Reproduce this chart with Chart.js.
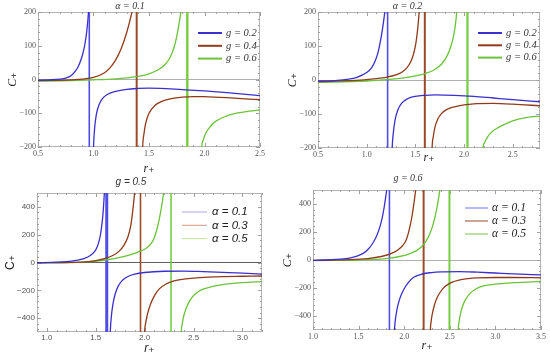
<!DOCTYPE html>
<html>
<head>
<meta charset="UTF-8">
<title>C+ vs r+</title>
<script src="https://cdn.jsdelivr.net/npm/chart.js@4.4.0/dist/chart.umd.min.js"></script>
<style>
  body { margin: 0; background: #fff; }
  #wrap { position: relative; width: 550px; height: 361px; overflow: hidden; }
  .panel { position: absolute; }
</style>
</head>
<body>
<div id="wrap">
  <div class="panel" style="left:0;top:0;"><canvas id="c1" width="275" height="180"></canvas></div>
  <div class="panel" style="left:275px;top:0;"><canvas id="c2" width="275" height="180"></canvas></div>
  <div class="panel" style="left:0;top:176px;"><canvas id="c3" width="275" height="185"></canvas></div>
  <div class="panel" style="left:275px;top:172px;"><canvas id="c4" width="275" height="189"></canvas></div>
</div>

<script>
// ---- data: [r+, C+] ----
// top left, alpha = 0.1
const a1_g02_left  = [[0.5,-2],[0.6,-1],[0.7,1],[0.75,4],[0.8,12],[0.84,26],[0.87,44],[0.9,72],[0.92,100],[0.94,145],[0.955,200],[0.965,260]];
const a1_g02_right = [[0.995,-260],[1.0,-200],[1.01,-145],[1.025,-105],[1.05,-75],[1.08,-57],[1.12,-45],[1.2,-35],[1.3,-29],[1.4,-26.5],[1.5,-25.5],[1.6,-26],[1.8,-30],[2.0,-34],[2.2,-39],[2.5,-48]];
const a1_g04_left  = [[0.5,-3],[0.8,-1],[0.9,1],[1.0,6],[1.1,20],[1.15,35],[1.2,58],[1.25,92],[1.3,140],[1.35,205],[1.37,240]];
const a1_g04_right = [[1.438,-260],[1.443,-200],[1.455,-160],[1.47,-130],[1.5,-100],[1.55,-78],[1.6,-67],[1.7,-57],[1.8,-52],[1.9,-50.5],[2.0,-51],[2.2,-54],[2.4,-58],[2.5,-60]];
const a1_g06_left  = [[0.5,-5],[0.8,-3],[1.0,-1],[1.2,2],[1.3,5],[1.4,9],[1.5,17],[1.58,28],[1.64,43],[1.69,65],[1.73,100],[1.76,145],[1.78,185],[1.79,210],[1.8,240]];
const a1_g06_right = [[1.97,-240],[1.975,-200],[1.99,-178],[2.01,-160],[2.05,-140],[2.1,-124],[2.2,-108],[2.3,-99],[2.4,-94],[2.5,-90]];
const a1_asym = [0.962, 1.389, 1.845];

// top right, alpha = 0.2
const a2_g02_left  = [[0.5,-3],[0.7,-1],[0.8,2],[0.9,8],[1.0,22],[1.05,36],[1.09,58],[1.12,85],[1.15,128],[1.17,165],[1.188,205],[1.2,240]];
const a2_g02_right = [[1.257,-260],[1.262,-200],[1.272,-160],[1.29,-120],[1.32,-88],[1.36,-68],[1.42,-55],[1.5,-48],[1.6,-45],[1.7,-44],[1.9,-45],[2.1,-48],[2.3,-53],[2.5,-58],[2.78,-64]];
const a2_g04_left  = [[0.5,-5],[0.8,-2],[1.0,1],[1.1,4],[1.2,8],[1.3,15],[1.36,23],[1.41,35],[1.45,52],[1.48,75],[1.505,108],[1.52,140],[1.535,185],[1.545,220]];
const a2_g04_right = [[1.667,-260],[1.672,-200],[1.685,-165],[1.7,-140],[1.73,-115],[1.77,-98],[1.82,-87],[1.9,-79],[2.0,-73],[2.1,-70],[2.3,-69],[2.5,-71],[2.78,-76]];
const a2_g06_left  = [[0.5,-7],[1.0,-3],[1.2,1],[1.4,7],[1.5,12],[1.6,19],[1.7,31],[1.77,47],[1.82,68],[1.86,95],[1.89,127],[1.91,160],[1.925,200],[1.935,235]];
const a2_g06_right = [[2.19,-240],[2.195,-200],[2.21,-185],[2.24,-168],[2.28,-154],[2.35,-140],[2.45,-126],[2.55,-116],[2.65,-110],[2.78,-106]];
const a2_asym = [1.215, 1.597, 2.035];

// bottom left, g = 0.5
const g5_a01_left  = [[0.9,-1],[1.1,2],[1.2,6],[1.3,15],[1.38,28],[1.44,48],[1.49,80],[1.515,112],[1.535,155],[1.55,205],[1.562,265],[1.572,330],[1.58,400],[1.587,480],[1.592,540]];
const g5_a01_right = [[1.645,-600],[1.649,-500],[1.655,-430],[1.665,-355],[1.68,-285],[1.7,-225],[1.73,-170],[1.77,-130],[1.82,-104],[1.9,-84],[2.0,-72],[2.2,-63],[2.4,-62],[2.6,-66],[2.8,-71],[3.0,-77],[3.2,-83]];
const g5_a03_left  = [[0.9,-2],[1.2,0],[1.4,5],[1.5,14],[1.6,30],[1.68,52],[1.74,82],[1.79,125],[1.83,185],[1.86,270],[1.88,380],[1.895,480],[1.905,560]];
const g5_a03_right = [[1.996,-600],[2.0,-500],[2.01,-440],[2.03,-370],[2.06,-300],[2.1,-240],[2.15,-190],[2.22,-155],[2.3,-133],[2.4,-120],[2.5,-112],[2.65,-105],[2.8,-101],[3.0,-99],[3.2,-97]];
const g5_a05_left  = [[0.9,-3],[1.2,-1],[1.4,5],[1.6,18],[1.75,37],[1.85,55],[1.95,80],[2.02,105],[2.07,140],[2.1,180],[2.13,250],[2.155,330],[2.175,410],[2.195,500],[2.205,550]];
const g5_a05_right = [[2.371,-600],[2.375,-500],[2.385,-440],[2.4,-385],[2.43,-320],[2.47,-265],[2.52,-225],[2.58,-197],[2.65,-180],[2.75,-164],[2.85,-154],[3.0,-145],[3.2,-137]];
const g5_asym = [1.613, 1.958, 2.27];

// bottom right, g = 0.6
const g6_a01_left  = [[1.0,-2],[1.2,2],[1.3,6],[1.4,14],[1.48,27],[1.55,47],[1.61,80],[1.66,125],[1.7,175],[1.735,240],[1.76,305],[1.78,375],[1.795,440],[1.808,500],[1.818,560]];
const g6_a01_right = [[1.889,-560],[1.893,-500],[1.9,-445],[1.91,-395],[1.925,-340],[1.945,-290],[1.97,-245],[2.0,-205],[2.04,-165],[2.1,-125],[2.2,-100],[2.3,-90],[2.4,-85],[2.6,-83],[2.8,-87],[3.0,-93],[3.2,-99],[3.5,-106]];
const g6_a03_left  = [[1.0,-3],[1.4,2],[1.6,10],[1.75,25],[1.86,47],[1.93,72],[1.98,100],[2.02,140],[2.045,190],[2.065,245],[2.082,300],[2.097,360],[2.11,420],[2.122,480],[2.13,520]];
const g6_a03_right = [[2.283,-600],[2.287,-500],[2.295,-440],[2.31,-380],[2.33,-325],[2.36,-270],[2.4,-225],[2.45,-188],[2.52,-160],[2.6,-143],[2.7,-133],[2.8,-128],[3.0,-125],[3.2,-125],[3.5,-127]];
const g6_a05_left  = [[1.0,-4],[1.5,0],[1.8,10],[1.95,25],[2.05,42],[2.13,65],[2.19,95],[2.24,135],[2.28,185],[2.31,240],[2.335,300],[2.355,360],[2.372,420],[2.386,480],[2.396,530]];
const g6_a05_right = [[2.588,-600],[2.592,-500],[2.6,-450],[2.615,-390],[2.64,-330],[2.67,-285],[2.72,-240],[2.79,-205],[2.87,-185],[3.0,-172],[3.2,-162],[3.5,-153]];
const g6_asym = [1.838, 2.213, 2.496];

const gLabels = ['g = 0.2', 'g = 0.4', 'g = 0.6'];
const alphaLabels = ['α = 0.1', 'α = 0.3', 'α = 0.5'];
const titles = ['α = 0.1', 'α = 0.2', 'g = 0.5', 'g = 0.6'];

const xTicksTop = [0.5, 1.0, 1.5, 2.0, 2.5];
const xTicksBL = [1.0, 1.5, 2.0, 2.5, 3.0];
const xTicksBR = [1.0, 1.5, 2.0, 2.5, 3.0, 3.5];
const yTicksTop = [-200, -100, 0, 100, 200];
const yTicksBottom = [-400, -200, 0, 200, 400];

// ---- styling ----
const SERIF = '"Liberation Serif", "DejaVu Serif", serif';
const SANS = '"Liberation Sans", "DejaVu Sans", sans-serif';
const curveColors = ['#3a2fcf', '#8f3b1b', '#6cc23a'];
const asymColors = ['#4d4de6', '#9a4a28', '#78cc40'];

// draw the legend inside the plot area
const insideLegend = {
  id: 'insideLegend',
  afterDatasetsDraw(chart, args, o) {
    const ctx = chart.ctx;
    const items = chart.data.datasets.filter(d => d.legendText);
    ctx.save();
    ctx.font = o.font;
    ctx.textBaseline = 'middle';
    items.forEach((d, i) => {
      const y = o.y + i * o.dy;
      ctx.strokeStyle = o.colors ? o.colors[i] : d.borderColor;
      ctx.lineWidth = o.lineWidth;
      ctx.beginPath();
      ctx.moveTo(o.x, y);
      ctx.lineTo(o.x + o.len, y);
      ctx.stroke();
      ctx.fillStyle = o.textColor;
      ctx.fillText(d.legendText, o.x + o.len + o.gap, y);
    });
    ctx.restore();
  }
};

// mathematica style frame with inward ticks
const frame = {
  id: 'frame',
  beforeDatasetsDraw(chart) {
    const {ctx, chartArea: a, scales} = chart;
    ctx.save();
    ctx.strokeStyle = '#b4b4b4';
    ctx.lineWidth = 1;
    ctx.strokeRect(a.left + 0.5, a.top + 0.5, a.right - a.left - 1, a.bottom - a.top - 1);
    ctx.strokeStyle = '#a0a0a0';
    ['x', 'y'].forEach(k => {
      const s = scales[k];
      const t = s.ticks.map(v => v.value);
      const step = (t[1] - t[0]) / 5;
      const start = Math.ceil((s.min - 1e-9) / step) * step;
      for (let v = start; v <= s.max + 1e-9; v += step) {
        const major = t.some(m => Math.abs(m - v) < step / 10);
        const len = major ? 4 : 2;
        const p = Math.round(s.getPixelForValue(v)) + 0.5;
        ctx.beginPath();
        if (k === 'x') {
          ctx.moveTo(p, a.bottom); ctx.lineTo(p, a.bottom - len);
          ctx.moveTo(p, a.top); ctx.lineTo(p, a.top + len);
        } else {
          ctx.moveTo(a.left, p); ctx.lineTo(a.left + len, p);
          ctx.moveTo(a.right, p); ctx.lineTo(a.right - len, p);
        }
        ctx.stroke();
      }
    });
    ctx.restore();
  }
};

function toXY(list) {
  return list.map(p => ({x: p[0], y: p[1]}));
}

function buildDatasets(branches, asym, labels, yLim, asymWidths) {
  const ds = [];
  branches.forEach((b, i) => {
    ds.push({data: toXY(b[0]), legendText: labels[i], borderColor: curveColors[i]});
    ds.push({data: toXY(b[1]), borderColor: curveColors[i]});
  });
  asym.forEach((a, i) => {
    ds.push({data: [{x: a, y: -yLim}, {x: a, y: yLim}], borderColor: asymColors[i],
             borderWidth: asymWidths[i], cubicInterpolationMode: 'default', tension: 0});
  });
  return ds.map(d => Object.assign({showLine: true, pointRadius: 0, borderWidth: 1.3,
    cubicInterpolationMode: 'monotone', clip: 0}, d));
}

function makeChart(id, s) {
  const minus = v => (v < 0 ? '\u2212' + Math.abs(v) : String(v));
  return new Chart(document.getElementById(id), {
    type: 'scatter',
    data: {datasets: s.datasets},
    options: {
      responsive: false,
      animation: false,
      layout: {padding: {left: 0, right: s.padRight, top: 0, bottom: 0}},
      plugins: {
        legend: {display: false},
        tooltip: {enabled: false},
        title: {display: true, text: s.title, color: '#333',
                font: {family: s.family, size: 10, style: 'italic', weight: 'normal'},
                padding: {top: 0, bottom: s.titlePad}},
        insideLegend: s.legend
      },
      scales: {
        x: {
          type: 'linear', min: s.xMin, max: s.xMax,
          afterBuildTicks: sc => { sc.ticks = s.xTicks.map(v => ({value: v})); },
          afterFit: sc => { sc.height = s.xHeight; },
          ticks: {callback: v => v.toFixed(1), color: '#555', padding: s.xTickPad,
                  font: {family: s.family, size: 8}, maxRotation: 0},
          grid: {display: false, drawTicks: false, tickLength: 0},
          border: {display: false},
          title: {display: true, text: 'r\u208A', color: '#222',
                  font: {family: s.family, size: 12, style: 'italic'},
                  padding: {top: 0, bottom: s.xTitlePad}}
        },
        y: {
          type: 'linear', min: -s.yLim, max: s.yLim,
          afterBuildTicks: sc => { sc.ticks = s.yTicks.map(v => ({value: v})); },
          afterFit: sc => { sc.width = s.yWidth; },
          ticks: {callback: minus, color: '#555', padding: 2,
                  font: {family: s.family, size: 8}},
          grid: {drawTicks: false, tickLength: 0,
                 color: c => (c.tick && c.tick.value === 0 ? s.zeroColor : 'rgba(0,0,0,0)')},
          border: {display: false},
          title: {display: true, text: 'C\u208A', color: '#222',
                  font: {family: s.family, size: 12, style: s.yTitleStyle},
                  padding: {top: s.yTitlePad, bottom: 0}}
        }
      }
    },
    plugins: [insideLegend, frame]
  });
}

makeChart('c1', {
  title: titles[0], family: SERIF,
  datasets: buildDatasets([[a1_g02_left, a1_g02_right], [a1_g04_left, a1_g04_right], [a1_g06_left, a1_g06_right]],
                          a1_asym, gLabels, 200, [1.6, 2, 2.4]),
  xMin: 0.5, xMax: 2.5, xTicks: xTicksTop, yLim: 200, yTicks: yTicksTop,
  padRight: 15, titlePad: 0, xHeight: 33, yWidth: 38, xTickPad: 2, xTitlePad: 4, yTitlePad: 6,
  yTitleStyle: 'italic', zeroColor: '#b0b0b0',
  legend: {x: 198, y: 33, dy: 12.8, len: 24, gap: 4, lineWidth: 2, textColor: '#333',
           font: 'italic 10.5px ' + SERIF}
});

makeChart('c2', {
  title: titles[1], family: SERIF,
  datasets: buildDatasets([[a2_g02_left, a2_g02_right], [a2_g04_left, a2_g04_right], [a2_g06_left, a2_g06_right]],
                          a2_asym, gLabels, 200, [1.6, 2, 2.2]),
  xMin: 0.5, xMax: 2.78, xTicks: xTicksTop, yLim: 200, yTicks: yTicksTop,
  padRight: 10, titlePad: 0, xHeight: 32, yWidth: 43, xTickPad: 2, xTitlePad: 15, yTitlePad: 11,
  yTitleStyle: 'italic', zeroColor: '#b0b0b0',
  legend: {x: 203, y: 33, dy: 12.3, len: 24, gap: 4, lineWidth: 2, textColor: '#333',
           font: 'italic 10.5px ' + SERIF}
});

makeChart('c3', {
  title: titles[2], family: SANS,
  datasets: buildDatasets([[g5_a01_left, g5_a01_right], [g5_a03_left, g5_a03_right], [g5_a05_left, g5_a05_right]],
                          g5_asym, alphaLabels, 500, [3, 1.6, 1.6]),
  xMin: 0.9, xMax: 3.2, xTicks: xTicksBL, yLim: 500, yTicks: yTicksBottom,
  padRight: 13, titlePad: 5, xHeight: 29, yWidth: 37, xTickPad: 1, xTitlePad: 5, yTitlePad: 3,
  yTitleStyle: 'normal', zeroColor: '#606060',
  legend: {x: 182, y: 36, dy: 13.3, len: 25, gap: 5, lineWidth: 1,
           colors: ['#a8a8f0', '#d39b88', '#c2e0a2'], textColor: '#222',
           font: 'italic 11.5px ' + SANS}
});

makeChart('c4', {
  title: titles[3], family: SERIF,
  datasets: buildDatasets([[g6_a01_left, g6_a01_right], [g6_a03_left, g6_a03_right], [g6_a05_left, g6_a05_right]],
                          g6_asym, alphaLabels, 500, [1.6, 2, 2]),
  xMin: 1.0, xMax: 3.5, xTicks: xTicksBR, yLim: 500, yTicks: yTicksBottom,
  padRight: 9, titlePad: 6, xHeight: 31, yWidth: 38, xTickPad: 2, xTitlePad: 8, yTitlePad: 6,
  yTitleStyle: 'italic', zeroColor: '#b0b0b0',
  legend: {x: 190, y: 36, dy: 13, len: 23, gap: 4, lineWidth: 1.2,
           colors: ['#8a8aee', '#a86a50', '#92d062'], textColor: '#222',
           font: 'italic 11.5px ' + SERIF}
});
</script>
</body>
</html>
